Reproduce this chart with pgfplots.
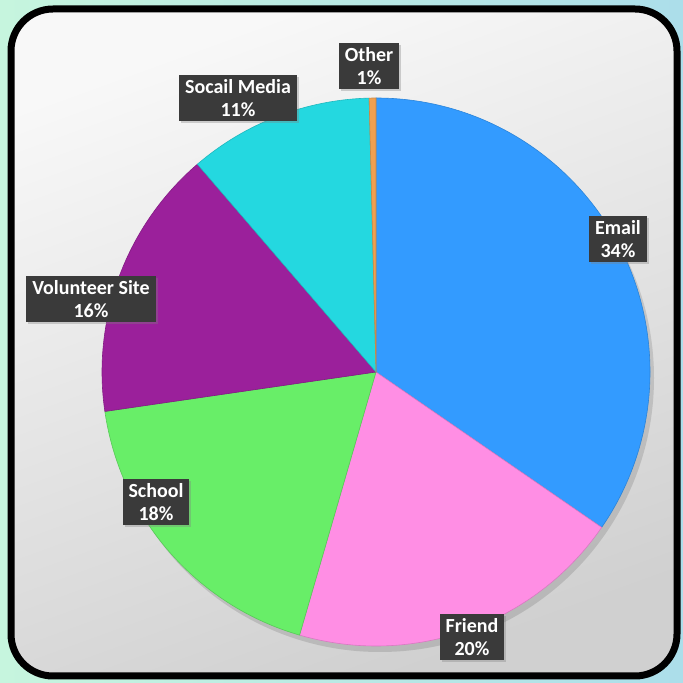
\documentclass[border=0pt]{standalone}
\usepackage{pgfplots}
\pgfplotsset{compat=1.18}
\usepackage{pgfplotstable}
\usepackage{fontspec}
\setmainfont{Carlito}
\usetikzlibrary{shadows}

\definecolor{cEmail}{RGB}{51,155,255}
\definecolor{cFriend}{RGB}{255,142,228}
\definecolor{cSchool}{RGB}{104,238,104}
\definecolor{cVolunteer}{RGB}{155,32,155}
\definecolor{cSocial}{RGB}{36,216,224}
\definecolor{cOther}{RGB}{240,160,80}
\definecolor{boxgray}{RGB}{58,58,58}

\tikzset{labelbox/.style={fill=boxgray, text=white, font=\fontsize{20}{23}\selectfont\bfseries,
        align=center, inner xsep=6pt, inner ysep=4.5pt,
        drop shadow={shadow xshift=2pt, shadow yshift=-2pt, opacity=0.35}}}

% slices clockwise from 12 o'clock; value = share read from the angles,
% shown = printed percentage, lx/ly = label position (pt from pie centre)
\pgfplotstableread[col sep=comma]{
label,value,shown,color,lx,ly
Email,34.6,34,cEmail,242,133
Friend,19.9,20,cFriend,96,-265
School,18.2,18,cSchool,-220,-130
Volunteer Site,16.0,16,cVolunteer,-285,73
Socail Media,10.9,11,cSocial,-138,274
Other,0.4,1,cOther,-7,306
}\piedata

\def\R{274}

\begin{document}
\begin{tikzpicture}
\begin{axis}[
    x=1pt, y=1pt,
    xmin=-376, xmax=307,
    ymin=-311, ymax=372,
    hide axis,
    clip=false,
]
    % page background and framed panel
    \shade[left color={rgb,255:red,198;green,245;blue,222}, right color={rgb,255:red,172;green,222;blue,234}]
        (rel axis cs:0,0) rectangle (rel axis cs:1,1);
    \shade[top color={rgb,255:red,248;green,248;blue,248}, bottom color={rgb,255:red,208;green,208;blue,208},
        shading angle=20, rounded corners=42pt]
        (axis cs:-365,-304) rectangle (axis cs:301,363);
    \draw[black, line width=7pt, rounded corners=42pt]
        (axis cs:-365,-304) rectangle (axis cs:301,363);

    \pgfplotsextra{
        \fill[black, opacity=0.12] (axis cs:4,-6) circle[radius=\R pt];
        \def\angA{90}
        \pgfplotsforeachungrouped \i in {0,1,2,3,4,5}{
            \pgfplotstablegetelem{\i}{value}\of\piedata \let\val\pgfplotsretval
            \pgfplotstablegetelem{\i}{color}\of\piedata \let\slicecol\pgfplotsretval
            \pgfmathsetmacro\angB{\angA-3.6*\val}
            \filldraw[fill=\slicecol, draw=\slicecol!85!black, line width=0.6pt, line join=round]
                (axis cs:0,0) -- (axis cs:{\R*cos(\angA)},{\R*sin(\angA)})
                arc[start angle=\angA, end angle=\angB, radius=\R pt] -- cycle;
            \let\angA\angB
        }
        \pgfplotsforeachungrouped \i in {0,1,2,3,4,5}{
            \pgfplotstablegetelem{\i}{label}\of\piedata \let\lab\pgfplotsretval
            \pgfplotstablegetelem{\i}{shown}\of\piedata \let\shown\pgfplotsretval
            \pgfplotstablegetelem{\i}{lx}\of\piedata \let\lx\pgfplotsretval
            \pgfplotstablegetelem{\i}{ly}\of\piedata \let\ly\pgfplotsretval
            \node[labelbox] at (axis cs:\lx,\ly) {\lab\\\shown\%};
        }
    }
\end{axis}
\end{tikzpicture}
\end{document}
